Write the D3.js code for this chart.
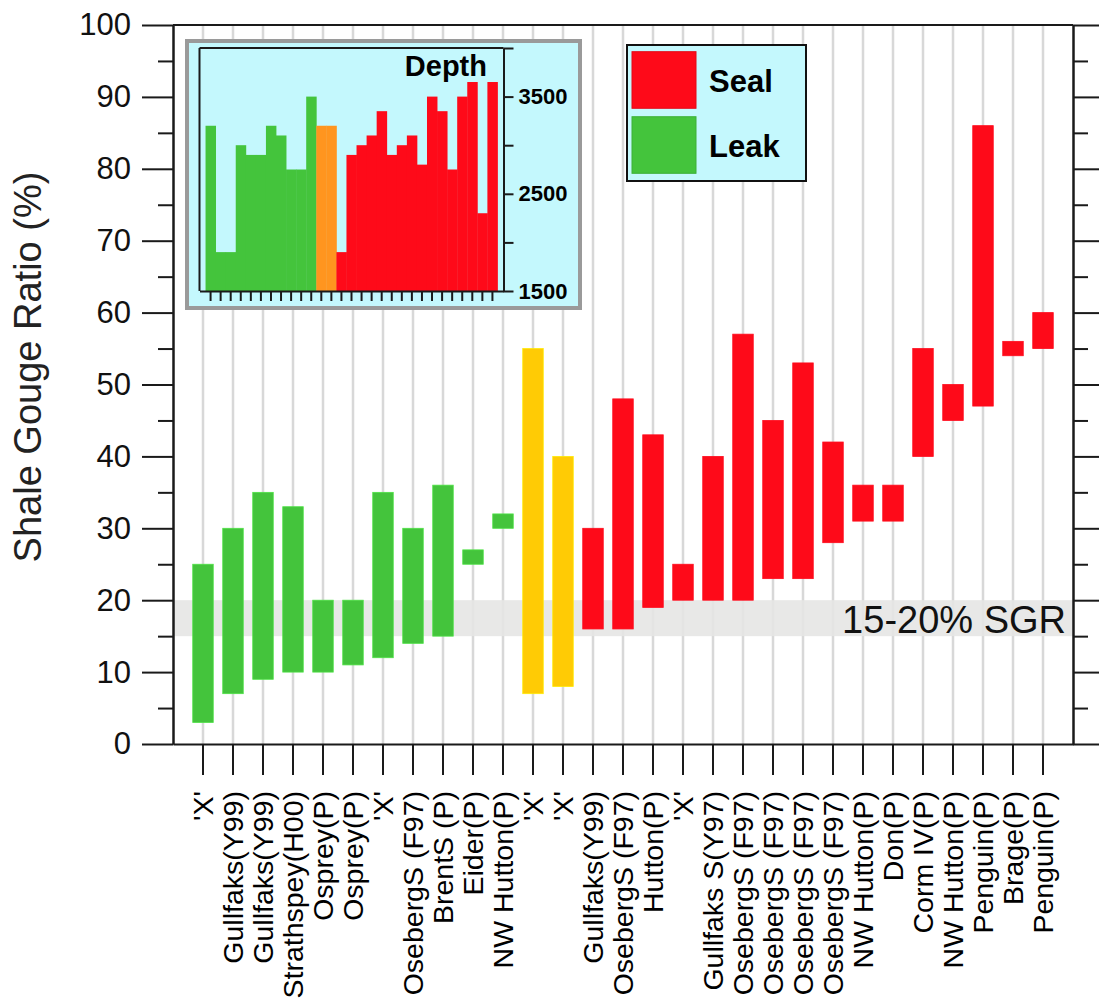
<!DOCTYPE html>
<html>
<head>
<meta charset="utf-8">
<script src="https://cdn.jsdelivr.net/npm/d3@7"></script>
<style>
  body { margin: 0; background: #fff; }
  svg { display: block; font-family: "Liberation Sans", Arial, Helvetica, sans-serif; }
</style>
</head>
<body>
<script>
// Fault names along the x axis (one per fault sample)
var categories = ["'X'", "Gullfaks(Y99)", "Gullfaks(Y99)", "Strathspey(H00)", "Osprey(P)", "Osprey(P)",
  "'X'", "OsebergS (F97)", "BrentS (P)", "Eider(P)", "NW Hutton(P)", "'X'", "'X'",
  "Gullfaks(Y99)", "OsebergS (F97)", "Hutton(P)", "'X'", "Gullfaks S(Y97)",
  "OsebergS (F97)", "OsebergS (F97)", "OsebergS (F97)", "OsebergS (F97)",
  "NW Hutton(P)", "Don(P)", "Corm IV(P)", "NW Hutton(P)", "Penguin(P)", "Brage(P)", "Penguin(P)"];

// SGR range of each fault (%)
var sgrMin = [3, 7, 9, 10, 10, 11, 12, 14, 15, 25, 30, 7, 8, 16, 16, 19, 20, 20, 20, 23, 23, 28, 31, 31, 40, 45, 47, 54, 55];
var sgrMax = [25, 30, 35, 33, 20, 20, 35, 30, 36, 27, 32, 55, 40, 30, 48, 43, 25, 40, 57, 45, 53, 42, 36, 36, 55, 50, 86, 56, 60];

// seal behaviour of each fault
var outcome = ["Leak", "Leak", "Leak", "Leak", "Leak", "Leak", "Leak", "Leak", "Leak", "Leak", "Leak",
  "Unclear", "Unclear",
  "Seal", "Seal", "Seal", "Seal", "Seal", "Seal", "Seal", "Seal", "Seal", "Seal", "Seal", "Seal", "Seal", "Seal", "Seal", "Seal"];

// depth of each fault (inset)
var depth = [3200, 1900, 1900, 3000, 2900, 2900, 3200, 3100, 2750, 2750, 3500, 3200, 3200,
  1900, 2900, 3000, 3100, 3350, 2900, 3000, 3100, 2800, 3500, 3350, 2750, 3500, 3650, 2300, 3650];

var yMajorTicks = [0, 10, 20, 30, 40, 50, 60, 70, 80, 90, 100];
var yMinorTicks = [5, 15, 25, 35, 45, 55, 65, 75, 85, 95];
var depthTicks = [1500, 2000, 2500, 3000, 3500, 4000];
var depthLabels = [1500, 2500, 3500];
var sgrBand = [15, 20];
var legendItems = ["Seal", "Leak"];

var mainColors = { "Leak": "#44c43c", "Unclear": "#ffcb05", "Seal": "#fe0a19" };
var insetColors = { "Leak": "#44c43c", "Unclear": "#ff951f", "Seal": "#fe0a19" };

var svgWidth = 1099;
var svgHeight = 1005;

// plot frame
var plot = { left: 173, right: 1073, top: 25, bottom: 744 };

var svg = d3.select("body")
  .append("svg")
  .attr("width", svgWidth)
  .attr("height", svgHeight);

var idx = d3.range(categories.length);

var xScale = d3.scaleBand()
  .domain(idx)
  .range([plot.left, plot.right])
  .paddingInner(0)
  .paddingOuter(0.5);

var yScale = d3.scaleLinear()
  .domain([0, 100])
  .range([plot.bottom, plot.top]);

var cx = function(i) { return xScale(i) + xScale.bandwidth() / 2; };

// light grey guide lines at each fault
svg.append("g")
  .selectAll("line")
  .data(idx)
  .enter()
  .append("line")
  .attr("x1", cx)
  .attr("x2", cx)
  .attr("y1", yScale(100))
  .attr("y2", yScale(0))
  .attr("stroke", "#d8d8d8")
  .attr("stroke-width", 2.5);

// 15-20% SGR band
svg.append("rect")
  .attr("x", plot.left)
  .attr("width", plot.right - plot.left)
  .attr("y", yScale(sgrBand[1]))
  .attr("height", yScale(sgrBand[0]) - yScale(sgrBand[1]))
  .attr("fill", "#e6e6e4")
  .attr("opacity", 0.9);

svg.append("text")
  .attr("x", 1066)
  .attr("y", 633)
  .attr("text-anchor", "end")
  .style("font-size", "38px")
  .attr("fill", "#111")
  .text("15-20% SGR");

// SGR range bars
var barW = 20.5;
svg.append("g")
  .selectAll("rect")
  .data(idx)
  .enter()
  .append("rect")
  .attr("x", function(i) { return cx(i) - barW / 2; })
  .attr("width", barW)
  .attr("y", function(i) { return yScale(sgrMax[i]); })
  .attr("height", function(i) { return yScale(sgrMin[i]) - yScale(sgrMax[i]); })
  .attr("fill", function(i) { return mainColors[outcome[i]]; })
  .attr("stroke", function(i) { return d3.color(mainColors[outcome[i]]).brighter(0.4); })
  .attr("stroke-width", 0.8);

// axes
var axisColor = "#1a1a1a";

function styleAxis(g) {
  g.selectAll("path, line").attr("stroke", axisColor).attr("stroke-width", 2);
  g.selectAll("text").attr("fill", "#111");
}

// left axis, major + minor
svg.append("g")
  .attr("transform", `translate(${plot.left},0)`)
  .call(d3.axisLeft(yScale).tickValues(yMajorTicks).tickSize(31).tickSizeOuter(0).tickPadding(11))
  .call(styleAxis)
  .call(g => g.selectAll("text").style("font-size", "31px").attr("font-family", null));

svg.append("g")
  .attr("transform", `translate(${plot.left},0)`)
  .call(d3.axisLeft(yScale).tickValues(yMinorTicks).tickSize(15).tickSizeOuter(0).tickFormat(""))
  .call(styleAxis);

// right axis, major + minor
svg.append("g")
  .attr("transform", `translate(${plot.right},0)`)
  .call(d3.axisRight(yScale).tickValues(yMajorTicks).tickSize(27).tickSizeOuter(0).tickFormat(""))
  .call(styleAxis);

svg.append("g")
  .attr("transform", `translate(${plot.right},0)`)
  .call(d3.axisRight(yScale).tickValues(yMinorTicks).tickSize(15).tickSizeOuter(0).tickFormat(""))
  .call(styleAxis);

// top frame
svg.append("line")
  .attr("x1", plot.left)
  .attr("x2", plot.right)
  .attr("y1", yScale(100))
  .attr("y2", yScale(100))
  .attr("stroke", axisColor)
  .attr("stroke-width", 2);

// bottom axis with rotated fault names
svg.append("g")
  .attr("transform", `translate(0,${plot.bottom})`)
  .call(d3.axisBottom(xScale).tickSize(31).tickSizeOuter(0).tickFormat(function(i) { return categories[i]; }))
  .call(styleAxis)
  .call(g => g.selectAll("text")
    .attr("font-family", null)
    .style("font-size", "28.5px")
    .attr("fill", "#000")
    .attr("transform", "rotate(-90)")
    .attr("text-anchor", "end")
    .attr("x", -47)
    .attr("y", 0)
    .attr("dy", "0.36em"));

// y axis title
svg.append("text")
  .attr("transform", "translate(41,367) rotate(-90)")
  .attr("text-anchor", "middle")
  .style("font-size", "38px")
  .attr("fill", "#222")
  .text("Shale Gouge Ratio (%)");

// ---------- inset: depth of each fault ----------
var inset = { left: 199.5, right: 503.5, top: 48, bottom: 291 };

svg.append("rect")
  .attr("x", 187)
  .attr("y", 41)
  .attr("width", 393)
  .attr("height", 267)
  .attr("fill", "#c4f8fd")
  .attr("stroke", "#9a9a9a")
  .attr("stroke-width", 4);

var xInset = d3.scaleBand()
  .domain(idx)
  .range([inset.left, inset.right])
  .paddingInner(0)
  .paddingOuter(0.6);

var yInset = d3.scaleLinear()
  .domain([1500, 4000])
  .range([inset.bottom, inset.top]);

var insetG = svg.append("g");

insetG.selectAll("rect")
  .data(idx)
  .enter()
  .append("rect")
  .attr("x", function(i) { return xInset(i); })
  .attr("width", xInset.bandwidth() + 0.4)
  .attr("y", function(i) { return yInset(depth[i]); })
  .attr("height", function(i) { return yInset(1500) - yInset(depth[i]); })
  .attr("fill", function(i) { return insetColors[outcome[i]]; });

// inset frame lines
insetG.append("line")
  .attr("x1", inset.left).attr("x2", inset.left)
  .attr("y1", inset.top).attr("y2", inset.bottom)
  .attr("stroke", axisColor).attr("stroke-width", 2);

insetG.append("line")
  .attr("x1", inset.left).attr("x2", inset.right)
  .attr("y1", inset.top).attr("y2", inset.top)
  .attr("stroke", axisColor).attr("stroke-width", 2);

insetG.append("g")
  .attr("transform", `translate(0,${inset.bottom})`)
  .call(d3.axisBottom(xInset).tickSize(10).tickSizeOuter(0).tickFormat(""))
  .call(styleAxis);

insetG.append("g")
  .attr("transform", `translate(${inset.right},0)`)
  .call(d3.axisRight(yInset).tickValues(depthTicks).tickSize(10).tickSizeOuter(0).tickPadding(5)
    .tickFormat(function(d) { return depthLabels.indexOf(d) >= 0 ? d : ""; }))
  .call(styleAxis)
  .call(g => g.selectAll("text")
    .attr("font-family", null)
    .style("font-size", "22px")
    .style("font-weight", "bold")
    .attr("fill", "#000"));

insetG.append("text")
  .attr("x", 487)
  .attr("y", 76)
  .attr("text-anchor", "end")
  .style("font-size", "29px")
  .style("font-weight", "bold")
  .text("Depth");

// ---------- legend ----------
svg.append("rect")
  .attr("x", 627)
  .attr("y", 45)
  .attr("width", 179)
  .attr("height", 136)
  .attr("fill", "#c4f8fd")
  .attr("stroke", "#111")
  .attr("stroke-width", 2);

var legendY = d3.scaleBand()
  .domain(legendItems)
  .range([51.7, 173.3])
  .paddingInner(0.13);

var legendRow = svg.append("g")
  .selectAll("g")
  .data(legendItems)
  .enter()
  .append("g")
  .attr("transform", function(d) { return `translate(0,${legendY(d)})`; });

legendRow.append("rect")
  .attr("x", 632)
  .attr("width", 64)
  .attr("height", legendY.bandwidth())
  .attr("fill", function(d) { return mainColors[d]; })
  .attr("stroke", function(d) { return d3.color(mainColors[d]).darker(0.3); })
  .attr("stroke-width", 1);

legendRow.append("text")
  .attr("x", 709)
  .attr("y", legendY.bandwidth() / 2)
  .attr("dy", "0.4em")
  .style("font-size", "31px")
  .style("font-weight", "bold")
  .text(function(d) { return d; });
</script>
</body>
</html>
